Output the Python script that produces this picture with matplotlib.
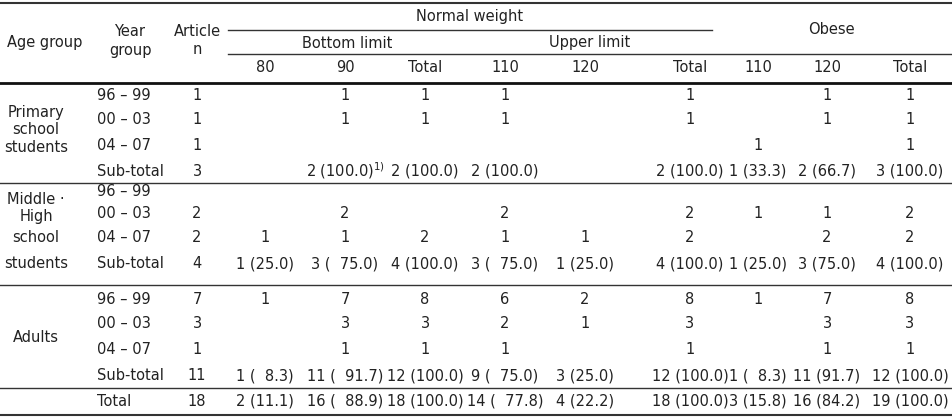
import matplotlib
matplotlib.use("Agg")
import matplotlib.pyplot as plt

col_keys = ["80", "90", "Total", "110", "120", "Total", "110", "120", "Total"]
year_groups = ["96 – 99", "00 – 03", "04 – 07", "Sub-total"]
age_groups = [["Primary", "school", "students"], ["Middle ·", "High", "school", "students"], ["Adults"]]
article_n = ["1", "1", "1", "3", "", "2", "2", "4", "7", "3", "1", "11", "18"]
cells = [
    ["", "1", "1", "1", "", "1", "", "1", "1"],
    ["", "1", "1", "1", "", "1", "", "1", "1"],
    ["", "", "", "", "", "", "1", "", "1"],
    ["", "2 (100.0)$^{1)}$", "2 (100.0)", "2 (100.0)", "", "2 (100.0)", "1 (33.3)", "2 (66.7)", "3 (100.0)"],
    ["", "", "", "", "", "", "", "", ""],
    ["", "2", "", "2", "", "2", "1", "1", "2"],
    ["1", "1", "2", "1", "1", "2", "", "2", "2"],
    ["1 (25.0)", "3 (  75.0)", "4 (100.0)", "3 (  75.0)", "1 (25.0)", "4 (100.0)", "1 (25.0)", "3 (75.0)", "4 (100.0)"],
    ["1", "7", "8", "6", "2", "8", "1", "7", "8"],
    ["", "3", "3", "2", "1", "3", "", "3", "3"],
    ["", "1", "1", "1", "", "1", "", "1", "1"],
    ["1 (  8.3)", "11 (  91.7)", "12 (100.0)", "9 (  75.0)", "3 (25.0)", "12 (100.0)", "1 (  8.3)", "11 (91.7)", "12 (100.0)"],
    ["2 (11.1)", "16 (  88.9)", "18 (100.0)", "14 (  77.8)", "4 (22.2)", "18 (100.0)", "3 (15.8)", "16 (84.2)", "19 (100.0)"],
]

W, H = 952, 418
fig = plt.figure(figsize=(W / 100, H / 100), dpi=100)
ax = fig.add_axes([0, 0, 1, 1])
ax.set_xlim(0, W)
ax.set_ylim(H, 0)
ax.axis("off")
fs = 10.5
kw = dict(fontsize=fs, color="#222222", va="center")

col_x = [265, 345, 425, 505, 585, 690, 758, 827, 910]
row_y = [95, 120, 145, 171, 191, 214, 238, 264, 299, 324, 350, 376, 401]

# lines
ax.plot([0, W], [3, 3], color="#333", lw=1.5)
ax.plot([228, 712], [30, 30], color="#333", lw=1)
ax.plot([228, W], [54, 54], color="#333", lw=1)
ax.plot([0, W], [83, 83], color="#111", lw=2)
for y in (183, 285, 388):
    ax.plot([0, W], [y, y], color="#333", lw=1)
ax.plot([0, W], [415, 415], color="#333", lw=1.5)

# header
ax.text(45, 42, "Age group", ha="center", **kw)
ax.text(130, 32, "Year", ha="center", **kw)
ax.text(130, 50, "group", ha="center", **kw)
ax.text(197, 32, "Article", ha="center", **kw)
ax.text(197, 50, "n", ha="center", **kw)
ax.text(470, 16, "Normal weight", ha="center", **kw)
ax.text(347, 43, "Bottom limit", ha="center", **kw)
ax.text(590, 43, "Upper limit", ha="center", **kw)
ax.text(831, 30, "Obese", ha="center", **kw)
for x, k in zip(col_x, col_keys):
    ax.text(x, 68, k, ha="center", **kw)

# age group labels
ages_y = [[113, 130, 147], [200, 216, 238, 264], [337]]
for labels, ys in zip(age_groups, ages_y):
    for lab, y in zip(labels, ys):
        ax.text(36, y, lab, ha="center", **kw)

# rows
for i, y in enumerate(row_y):
    if i < 12:
        ax.text(97, y, year_groups[i % 4], ha="left", **kw)
    else:
        ax.text(97, y, "Total", ha="left", **kw)
    ax.text(197, y, article_n[i], ha="center", **kw)
    for x, v in zip(col_x, cells[i]):
        if v:
            ax.text(x, y, v, ha="center", **kw)

fig.savefig("out.png", dpi=100)
